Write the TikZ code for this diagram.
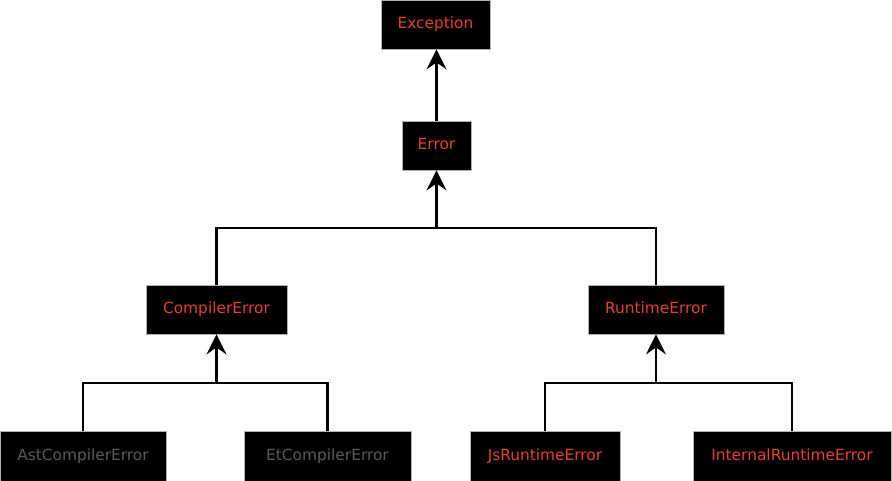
\documentclass[tikz,border=0pt]{standalone}
\usepackage{fontspec}
\setmainfont{DejaVu Sans}
\usetikzlibrary{arrows.meta}
\definecolor{txtred}{HTML}{E8412C}
\definecolor{txtgray}{HTML}{5A5A5A}
\definecolor{edgegray}{HTML}{B0B0B0}
\tikzset{
  cls/.style={draw=edgegray, line width=0.8pt, fill=black, text=txtred, minimum height=49pt, inner sep=0pt, text height=11pt, text depth=3pt, font=\fontsize{15.4}{17}\selectfont},
  dim/.style={text=txtgray},
  wire/.style={line width=2.8pt, line cap=butt},
  up/.style={wire, -{Stealth[length=20pt,width=20pt,inset=7pt]}},
}
\begin{document}
\begin{tikzpicture}[x=1pt,y=-1pt]
\useasboundingbox (0,0) rectangle (892,481);
\node[cls, minimum width=109pt] (exc) at (435.5,24.5) {Exception};
\node[cls, minimum width=69pt] (err) at (436.5,145.5) {Error};
\node[cls, minimum width=141pt] (comp) at (216.5,309.5) {CompilerError};
\node[cls, minimum width=136pt] (run) at (656,309.5) {RuntimeError};
\node[cls, dim, minimum width=166pt, minimum height=50pt] (ast) at (83,456) {AstCompilerError};
\node[cls, dim, minimum width=167pt, minimum height=50pt] (et) at (327.5,456) {EtCompilerError};
\node[cls, minimum width=150pt, minimum height=50pt] (js) at (545,456) {JsRuntimeError};
\node[cls, minimum width=198pt, minimum height=50pt] (int) at (792,456) {InternalRuntimeError};
\coordinate (tbus) at (436.5,228);
\coordinate (cbus) at (216.5,383);
\coordinate (rbus) at (656,383);
\draw[up] (err.north) -- (exc.south -| err.north);
\draw[wire] (comp.north) |- (tbus) -| (run.north);
\draw[up] (tbus) -- (err.south);
\draw[wire] (ast.north) |- (cbus) -| (et.north);
\draw[up] (cbus) -- (comp.south);
\draw[wire] (js.north) |- (rbus) -| (int.north);
\draw[up] (rbus) -- (run.south);
\end{tikzpicture}
\end{document}
